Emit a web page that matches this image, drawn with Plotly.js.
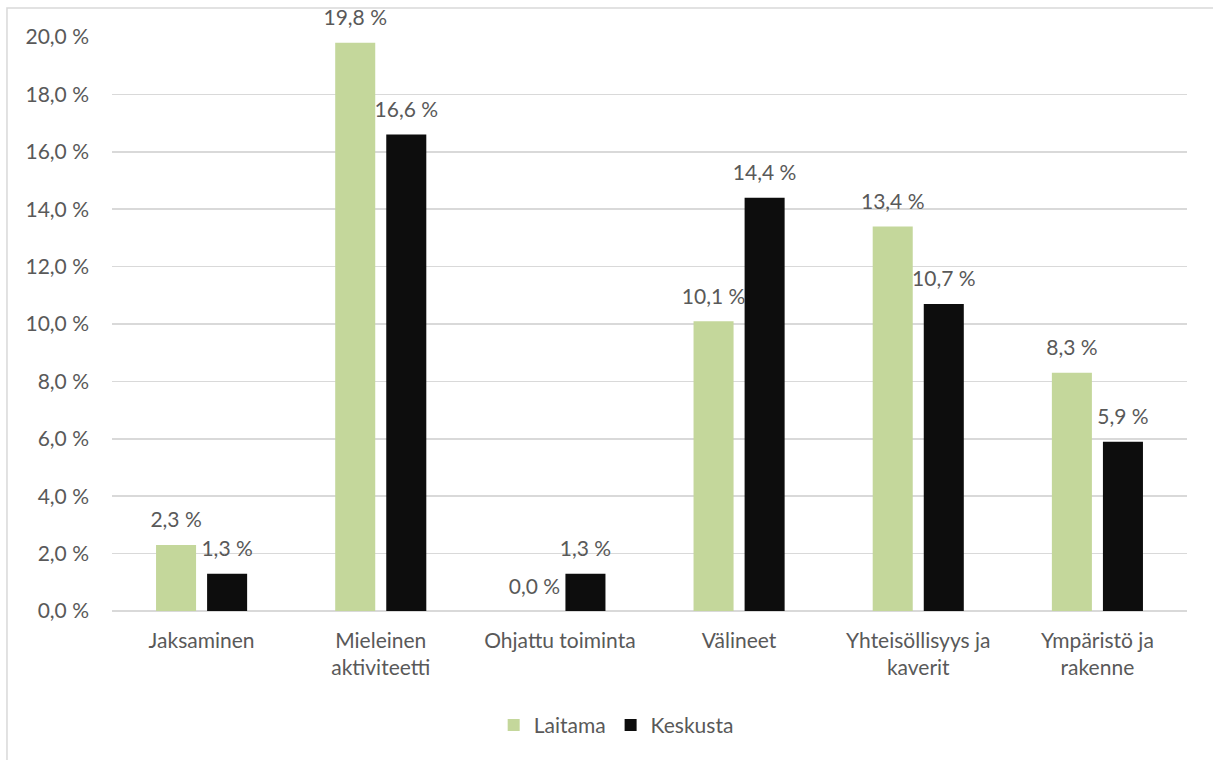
<!DOCTYPE html>
<html>
<head>
<meta charset="utf-8">
<script src="https://cdn.plot.ly/plotly-3.0.1.min.js"></script>
<style>html,body{margin:0;padding:0;background:#fff;}#chart{width:1213px;height:760px;}</style>
</head>
<body>
<div id="chart"></div>
<script>
const categories = ["Jaksaminen", "Mieleinen<br>aktiviteetti", "Ohjattu toiminta", "Välineet", "Yhteisöllisyys ja<br>kaverit", "Ympäristö ja<br>rakenne"];
const laitama = [2.3, 19.8, 0.0, 10.1, 13.4, 8.3];
const keskusta = [1.3, 16.6, 1.3, 14.4, 10.7, 5.9];
const seriesNames = ["Laitama", "Keskusta"];
const seriesColors = ["#C4D79B", "#0D0D0D"];
const tickValues = [0, 2, 4, 6, 8, 10, 12, 14, 16, 18, 20];

const FONT = "Lato, Open Sans, sans-serif";
const FS = 21;
const GREY = "#595959";
const fmt = v => v.toFixed(1).replace(".", ",") + " %";
const tickText = tickValues.map(fmt);

const seriesValues = [laitama, keskusta];
const traces = [];
seriesValues.forEach((vals, i) => {
  traces.push({type: "bar", name: seriesNames[i], x: categories, y: vals,
    marker: {color: seriesColors[i]}, hoverinfo: "none", offsetgroup: String(i)});
});
seriesValues.forEach((vals, i) => {
  traces.push({type: "scatter", mode: "markers+text", x: categories, y: vals,
    text: vals.map(fmt), textposition: "top center", showlegend: false,
    marker: {size: 18, color: "rgba(0,0,0,0)"}, cliponaxis: false, hoverinfo: "none",
    textfont: {family: FONT, size: FS, color: GREY}, offsetgroup: String(i)});
});

const layout = {
  width: 1213, height: 760,
  margin: {l: 112, r: 26, t: 37, b: 149},
  paper_bgcolor: "#ffffff", plot_bgcolor: "#ffffff",
  font: {family: FONT, size: FS, color: GREY},
  barmode: "group", bargap: 0.43, bargroupgap: 0.216,
  scattermode: "group", scattergap: 0.43,
  showlegend: true,
  legend: {orientation: "h", x: 0.469, xanchor: "center", y: -0.199, yanchor: "middle",
           font: {family: FONT, size: FS, color: GREY}, tracegroupgap: 0},
  xaxis: {type: "category", showgrid: false, zeroline: false, showline: false,
          ticks: "", ticklabelstandoff: 15, tickfont: {family: FONT, size: FS, color: GREY}, automargin: false},
  yaxis: {range: [0, 20], tickvals: tickValues, ticktext: tickText,
          showgrid: true, gridcolor: "#D9D9D9", gridwidth: 1.5, zeroline: true,
          zerolinecolor: "#D9D9D9", zerolinewidth: 1.5, showline: false, ticks: "",
          ticklabelstandoff: 22, tickfont: {family: FONT, size: FS, color: GREY}, automargin: false},
  shapes: [{type: "rect", xref: "paper", yref: "paper", x0: -0.0977, x1: 1.2, y0: -0.5, y1: 1.0505,
            line: {color: "#D9D9D9", width: 1.5}, fillcolor: "rgba(0,0,0,0)", layer: "below"}]
};

Plotly.newPlot("chart", traces, layout, {displayModeBar: false, staticPlot: true});
</script>
</body>
</html>
